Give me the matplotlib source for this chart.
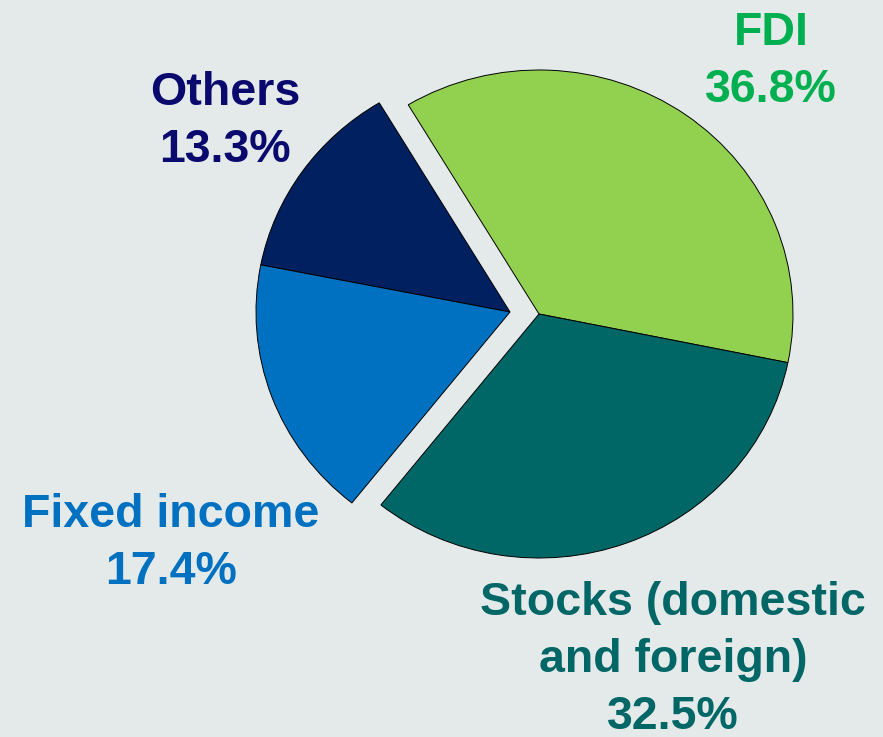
import numpy as np
import matplotlib
matplotlib.use('Agg')
import matplotlib.pyplot as plt

# Portfolio composition (share of total, %)
labels = ['FDI', 'Others', 'Fixed income', 'Stocks (domestic\nand foreign)']
shares = [36.8, 13.3, 17.4, 32.5]
slice_colors = ['#92d050', '#002060', '#0070c0', '#006666']
text_colors = ['#00b050', '#0a0a6e', '#0070c0', '#006666']
left_group = ['Others', 'Fixed income']

W, H = 883, 737
rx, ry = 254.0, 244.0          # pie is slightly wider than tall
sy = rx / ry                   # vertical data scale

fig = plt.figure(figsize=(W / 100, H / 100), dpi=100)
fig.patch.set_facecolor('#e4eaea')
ax = fig.add_axes([0, 0, 1, 1])
ax.set_facecolor('#e4eaea')

cx, cy = 539, (H - 314) * sy
wedges, _ = ax.pie(shares, colors=slice_colors, startangle=-11.5,
                   counterclock=True, radius=rx, center=(cx, cy),
                   wedgeprops=dict(edgecolor='black', linewidth=0.7))

# shift the left pair of slices together, away from the rest
for w, lab in zip(wedges, labels):
    if lab in left_group:
        w.set_center((cx - 29, cy + 2 * sy))

ax.set_xlim(0, W)
ax.set_ylim(0, H * sy)
ax.set_aspect('auto')
ax.axis('off')

# label positions (pixel centre x, first baseline y)
label_pos = [(771, 45), (225, 105), (171, 527), (673, 615)]
line_h = 57
for lab, pct, col, (x, y) in zip(labels, shares, text_colors, label_pos):
    lines = lab.split('\n') + [f'{pct:.1f}%']
    for i, line in enumerate(lines):
        fig.text(x / W, 1 - (y + i * line_h) / H, line, ha='center',
                 va='baseline', fontsize=33.5, fontweight='bold',
                 family=['Liberation Sans', 'DejaVu Sans'], color=col)

fig.savefig('out.png', dpi=100, facecolor=fig.get_facecolor())
